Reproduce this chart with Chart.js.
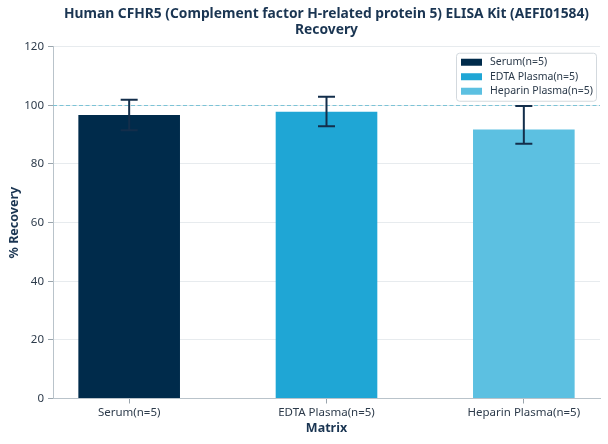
<!DOCTYPE html>
<html><head><meta charset="utf-8">
<script src="https://cdn.jsdelivr.net/npm/chart.js@4.4.1/dist/chart.umd.min.js"></script>
<style>html,body{margin:0;padding:0;background:#fff}</style>
</head><body>
<canvas id="c" width="608" height="444"></canvas>
<script>
const categories = ['Serum(n=5)', 'EDTA Plasma(n=5)', 'Heparin Plasma(n=5)'];
const recovery = [96.7, 97.8, 91.8];
const errLow = [91.5, 92.9, 86.9];
const errHigh = [101.9, 102.9, 99.8];
const referenceLine = 100;
const yTicks = [0, 20, 40, 60, 80, 100, 120];

const barColors = ['#002b4b', '#1fa6d5', '#5cc0e1'];
const FONT = "'Noto Sans', 'DejaVu Sans', sans-serif";
const NAVY = '#1a3552';

const refLinePlugin = {
  id: 'refLine',
  beforeDatasetsDraw(chart) {
    const { ctx, chartArea, scales } = chart;
    const y = Math.round(scales.y.getPixelForValue(referenceLine)) + 0.5;
    ctx.save();
    ctx.strokeStyle = '#7cc3d6';
    ctx.lineWidth = 1;
    ctx.setLineDash([4, 2.5]);
    ctx.beginPath();
    ctx.moveTo(chartArea.left, y);
    ctx.lineTo(chartArea.right, y);
    ctx.stroke();
    ctx.restore();
  }
};

const errorBarPlugin = {
  id: 'errorBars',
  afterDatasetsDraw(chart) {
    const ctx = chart.ctx, ys = chart.scales.y;
    ctx.save();
    ctx.strokeStyle = '#132e4b';
    ctx.lineWidth = 2;
    chart.data.datasets.forEach((ds, i) => {
      const el = chart.getDatasetMeta(i).data[0];
      const x = el.x;
      const yl = ys.getPixelForValue(errLow[i]);
      const yh = ys.getPixelForValue(errHigh[i]);
      ctx.beginPath();
      ctx.moveTo(x, yl); ctx.lineTo(x, yh);
      ctx.moveTo(x - 8.5, yl); ctx.lineTo(x + 8.5, yl);
      ctx.moveTo(x - 8.5, yh); ctx.lineTo(x + 8.5, yh);
      ctx.stroke();
    });
    ctx.restore();
  }
};

const legendPlugin = {
  id: 'boxLegend',
  afterDraw(chart) {
    const ctx = chart.ctx;
    const ca = chart.chartArea;
    const bx = ca.right - 144, by = ca.top + 6, bw = 140, bh = 48;
    ctx.save();
    ctx.fillStyle = 'rgba(255,255,255,0.85)';
    ctx.strokeStyle = '#d3d9de';
    ctx.lineWidth = 1;
    ctx.beginPath();
    ctx.roundRect(bx + 0.5, by + 0.5, bw, bh, 3);
    ctx.fill();
    ctx.stroke();
    ctx.font = '10.5px ' + FONT;
    ctx.textBaseline = 'middle';
    chart.data.datasets.forEach((ds, i) => {
      const cy = by + 9.5 + i * 14.5;
      ctx.fillStyle = ds.backgroundColor;
      ctx.fillRect(bx + 5, cy - 3.5, 21, 7);
      ctx.fillStyle = '#2b3a4a';
      ctx.fillText(ds.label, bx + 34, cy);
    });
    ctx.restore();
  }
};

new Chart(document.getElementById('c'), {
  type: 'bar',
  data: {
    datasets: categories.map((c, i) => ({
      label: c,
      data: [{ x: i, y: recovery[i] }],
      backgroundColor: barColors[i],
      borderWidth: 0,
      grouped: false,
      barPercentage: 1,
      categoryPercentage: 0.515
    }))
  },
  options: {
    responsive: false,
    animation: false,
    layout: { padding: { left: 0, right: 8, top: 0, bottom: 0 } },
    plugins: {
      legend: { display: false },
      tooltip: { enabled: false },
      title: {
        display: true,
        fullSize: false,
        text: ['Human CFHR5 (Complement factor H-related protein 5) ELISA Kit (AEFI01584)', 'Recovery'],
        color: NAVY,
        font: { family: FONT, size: 13.8, weight: 'bold', lineHeight: 1.15 },
        padding: { top: 6, bottom: 9 }
      }
    },
    scales: {
      x: {
        type: 'linear',
        offset: false,
        min: -0.386,
        max: 2.386,
        afterBuildTicks(scale) { scale.ticks = categories.map((c, i) => ({ value: i })); },
        afterFit(scale) { scale.height = 45.5; },
        ticks: {
          autoSkip: false, maxRotation: 0, padding: 2,
          color: '#2d3b4b',
          font: { family: FONT, size: 11.5 },
          callback: (v) => categories[Math.round(v)]
        },
        grid: { offset: false, drawOnChartArea: false, drawTicks: true, tickLength: 5, tickColor: '#9aa5ad' },
        border: { color: '#b9c3ca', width: 1 },
        title: {
          display: true, text: 'Matrix', color: NAVY,
          font: { family: FONT, size: 12.5, weight: 'bold' },
          padding: { top: 2, bottom: 8 }
        }
      },
      y: {
        min: 0, max: 120,
        afterBuildTicks(scale) { scale.ticks = yTicks.map(v => ({ value: v })); },
        afterFit(scale) { scale.width = 53; },
        ticks: {
          padding: 4, color: '#2d3b4b',
          font: { family: FONT, size: 11.5 }
        },
        grid: { color: '#e7ebee', tickColor: '#9aa5ad', tickLength: 5 },
        border: { color: '#b9c3ca', width: 1 },
        title: {
          display: true, text: '% Recovery', color: NAVY,
          font: { family: FONT, size: 12.5, weight: 'bold' },
          padding: { top: 7, bottom: 2 }
        }
      }
    }
  },
  plugins: [refLinePlugin, errorBarPlugin, legendPlugin]
});
</script>
</body></html>
